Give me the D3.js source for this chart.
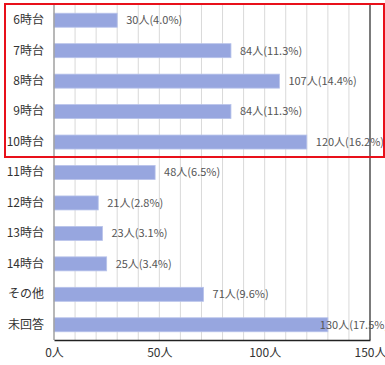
<!DOCTYPE html>
<html><head><meta charset="utf-8">
<script src="https://cdn.jsdelivr.net/npm/d3@7"></script>
<style>body{margin:0;background:#fff}svg{display:block}</style>
</head><body>
<script>
const categories = ["6時台","7時台","8時台","9時台","10時台","11時台","12時台","13時台","14時台","その他","未回答"];
const counts = [30,84,107,84,120,48,21,23,25,71,130];
const percents = ["4.0%","11.3%","14.4%","11.3%","16.2%","6.5%","2.8%","3.1%","3.4%","9.6%","17.5%"];
const tickValues = [0,50,100,150];
const tickLabels = ["0人","50人","100人","150人"];

const W = 385, H = 365;
const margin = {left:54, right:15, top:5, bottom:25};
const svg = d3.select("body").append("svg").attr("width",W).attr("height",H);
const font = "'Noto Sans CJK JP', sans-serif";

const x = d3.scaleLinear().domain([0,150]).range([margin.left, W - margin.right]);
const y = d3.scaleBand().domain(categories).range([margin.top, H - margin.bottom]).paddingInner(0.54).paddingOuter(0.27);

// gridlines
svg.append("g").selectAll("line").data(d3.range(10,150,10)).join("line")
  .attr("x1",d=>x(d)).attr("x2",d=>x(d))
  .attr("y1",margin.top).attr("y2",H-margin.bottom)
  .attr("stroke","#d9d9d9").attr("stroke-width",1);

// bars
svg.append("g").selectAll("rect").data(counts).join("rect")
  .attr("x",x(0)).attr("y",(d,i)=>y(categories[i]))
  .attr("width",d=>x(d)-x(0)).attr("height",y.bandwidth())
  .attr("fill","#97a6df").attr("stroke","#b8c3ea").attr("stroke-width",0.8);

// left axis line
svg.append("line").attr("x1",x(0)).attr("x2",x(0)).attr("y1",margin.top).attr("y2",H-margin.bottom)
  .attr("stroke","#a0a0a0").attr("stroke-width",1.5);
// right border
svg.append("line").attr("x1",x(150)).attr("x2",x(150)).attr("y1",margin.top-1).attr("y2",H-margin.bottom)
  .attr("stroke","#222").attr("stroke-width",1.2);
// bottom axis
const xAxis = d3.axisBottom(x).tickValues(tickValues).tickSize(0).tickFormat((d,i)=>tickLabels[i]);
const gx = svg.append("g").attr("transform",`translate(0,${H-margin.bottom})`).call(xAxis);
gx.select(".domain").attr("stroke","#222").attr("stroke-width",1.5);
gx.selectAll("text").attr("font-family",font).attr("font-size",12).attr("fill","#333").attr("dy","1.15em");

// category labels
const yAxis = d3.axisLeft(y).tickSize(0).tickPadding(10);
const gy = svg.append("g").attr("transform",`translate(${x(0)},0)`).call(yAxis);
gy.select(".domain").remove();
gy.selectAll("text").attr("font-family",font).attr("font-size",12).attr("fill","#333");

// value labels
svg.append("g").selectAll("text").data(counts).join("text")
  .attr("x",d=> x(d) + (x(d)+70 > W ? -8 : 9))
  .attr("y",(d,i)=>y(categories[i]) + y.bandwidth()/2)
  .attr("dy","0.35em")
  .attr("font-family",font).attr("font-size",11).attr("fill","#555")
  .text((d,i)=>`${d}人(${percents[i]})`);

// red highlight box
svg.append("rect").attr("x",5).attr("y",4).attr("width",379).attr("height",153)
  .attr("fill","none").attr("stroke","#e8101a").attr("stroke-width",2);
</script>
</body></html>
